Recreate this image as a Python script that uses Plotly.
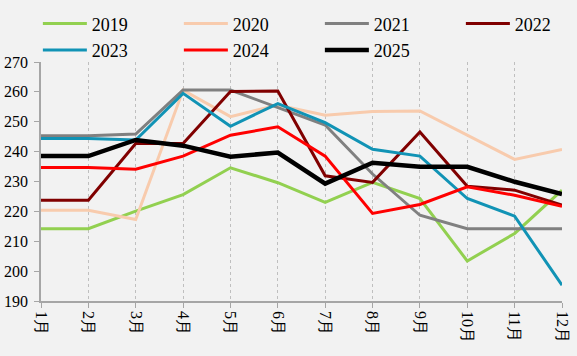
import plotly.graph_objects as go

months = ["1月", "2月", "3月", "4月", "5月", "6月", "7月", "8月", "9月", "10月", "11月", "12月"]
y2019 = [214.2, 214.2, 220.1, 225.6, 234.6, 229.6, 223.0, 229.7, 224.3, 203.4, 212.6, 227.1]
y2020 = [220.4, 220.4, 217.3, 260.6, 251.7, 255.6, 252.2, 253.4, 253.6, 245.5, 237.4, 240.7]
y2021 = [245.3, 245.3, 245.9, 260.6, 260.6, 254.8, 248.9, 232.5, 218.7, 214.2, 214.2, 214.2]
y2022 = [223.7, 223.7, 242.7, 242.7, 260.1, 260.3, 231.9, 229.7, 246.6, 228.4, 227.1, 222.1]
y2023 = [244.4, 244.4, 243.9, 259.5, 248.5, 256.1, 249.7, 240.8, 238.5, 224.3, 218.4, 195.3]
y2024 = [234.7, 234.7, 234.1, 238.5, 245.5, 248.3, 238.5, 219.3, 222.3, 228.2, 225.4, 221.7]
y2025 = [238.5, 238.5, 243.9, 242.0, 238.3, 239.7, 229.3, 236.3, 234.9, 234.9, 229.9, 225.8]

series = [
    ("2019", y2019, "#92d050", 3),
    ("2020", y2020, "#f8cbad", 3),
    ("2021", y2021, "#808080", 3),
    ("2022", y2022, "#800000", 3),
    ("2023", y2023, "#1193b5", 3),
    ("2024", y2024, "#ff0000", 3),
    ("2025", y2025, "#000000", 4.5),
]

FONT = "Liberation Serif, DejaVu Serif"

fig = go.Figure()
for name, vals, color, w in series:
    fig.add_trace(go.Scatter(x=months, y=vals, mode="lines", name=name,
                             line=dict(color=color, width=w)))

fig.update_layout(
    width=577, height=356,
    margin=dict(l=41, r=15, t=62, b=55, autoexpand=False),
    paper_bgcolor="#f2f2f2", plot_bgcolor="#f2f2f2",
    font=dict(family=FONT, size=16, color="#000000"),
    showlegend=True,
    legend=dict(orientation="h", x=-0.006, y=1.237, xanchor="left", yanchor="top",
                entrywidth=82, entrywidthmode="pixels", itemwidth=44,
                font=dict(family=FONT, size=18),
                bgcolor="rgba(0,0,0,0)", traceorder="normal"),
    xaxis=dict(
        showgrid=True, gridcolor="#bfbfbf", griddash="dot", gridwidth=1,
        showline=True, linecolor="#a6a6a6", linewidth=1.5,
        ticks="outside", ticklen=5, tickcolor="#a6a6a6",
        tickangle=90, range=[0, 11], zeroline=False,
        tickfont=dict(family=FONT, size=16),
    ),
    yaxis=dict(
        range=[190, 270], dtick=10, showgrid=False,
        showline=True, linecolor="#a6a6a6", linewidth=1.5,
        ticks="outside", ticklen=5, tickcolor="#a6a6a6", zeroline=False,
        ticklabelstandoff=3,
        tickfont=dict(family=FONT, size=16),
    ),
)

fig.write_html("out.html", config={"displayModeBar": False},
               post_script="document.body.style.margin='0';document.body.style.background='#f2f2f2';")
